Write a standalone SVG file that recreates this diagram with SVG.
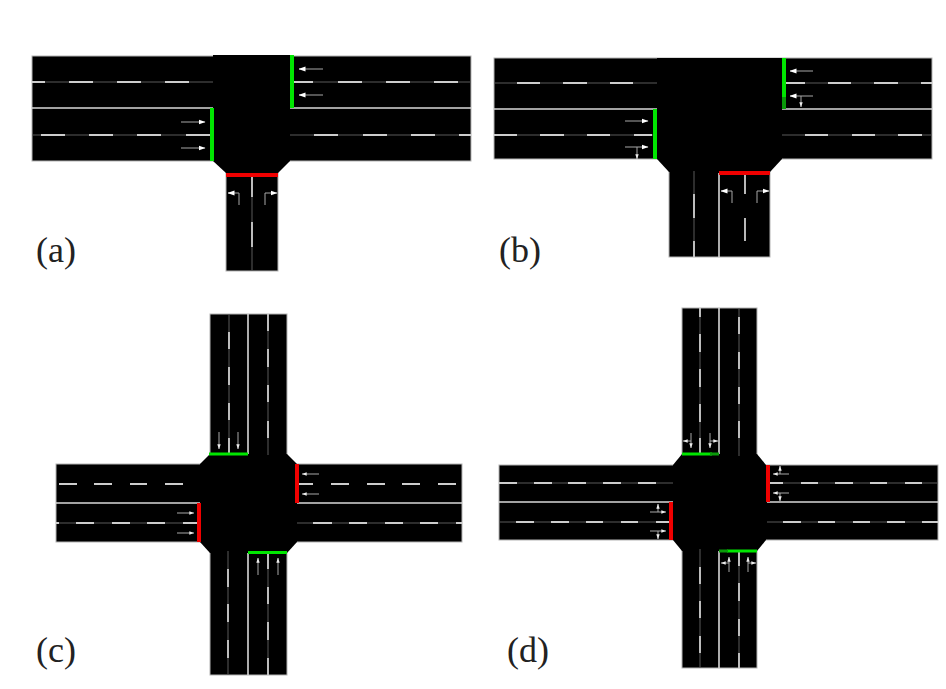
<svg xmlns="http://www.w3.org/2000/svg" width="946" height="689" viewBox="0 0 946 689">
<style>
.road{fill:#000;stroke:#b4b4b4;stroke-width:1}
.box{fill:#000}
.thin{fill:none;stroke:#5a5a5a;stroke-width:1}
.dash{fill:none;stroke:#cdcdcd;stroke-width:1.8}
.solid{fill:none;stroke:#d8d8d8;stroke-width:1.6}
.arr{fill:none;stroke:#a8a8a8;stroke-width:1;marker-end:url(#h)}
.arr2{fill:none;stroke:#a8a8a8;stroke-width:1;marker-end:url(#s)}
.g{fill:none;stroke:#00e600;stroke-width:4}
.g2{fill:none;stroke:#0a9a0a;stroke-width:4}
.r{fill:none;stroke:#f00000;stroke-width:4}
.lab{font-family:"Liberation Serif",serif;font-size:36px;fill:#222}
</style>
<defs>
<marker id="h" viewBox="0 0 7 6" refX="6.5" refY="3" markerWidth="7" markerHeight="6" markerUnits="userSpaceOnUse" orient="auto"><path d="M0 0.5L7 3L0 5.500z" fill="#fff"/></marker>
<marker id="s" viewBox="0 0 5 4" refX="4.700" refY="2" markerWidth="5" markerHeight="4" markerUnits="userSpaceOnUse" orient="auto"><path d="M0 0.300L5 2L0 3.700z" fill="#eee"/></marker>
</defs>
<rect width="946" height="689" fill="#fff"/>

<g id="panel-a">
<rect class="road" x="32" y="56" width="439" height="105"/>
<rect class="road" x="226" y="170" width="52" height="101"/>
<path class="box" d="M213 55H290V161L278 173H226L213 161z"/>
<path class="thin" d="M32 82H213M290 82H471M32 135H213M290 135H471M252 175V271"/>
<path class="dash" d="M32 82H45M69 82H93M117 82H141M165 82H189M41 135H65M89 135H113M137 135H161M186 135H210M293 82H313M338 82H362M386 82H410M434 82H458M314 135H338M363 135H387M411 135H435M459 135H471M252 175V197M252 222V247"/>
<path class="solid" d="M32 108H213M290 108H471"/>
<path class="g" d="M292 55V108M212 108V161"/>
<path class="r" d="M226 175H278"/>
<path class="arr" d="M323 69H299"/><path class="arr" d="M323 95H299"/>
<path class="arr" d="M181 122H205"/><path class="arr" d="M181 148H205"/>
<path class="arr" d="M239 205V193H228"/><path class="arr" d="M265 205V193H277"/>
<text class="lab" x="36" y="262">(a)</text>
</g>

<g id="panel-b">
<rect class="road" x="494" y="58" width="438" height="101"/>
<rect class="road" x="669" y="165" width="101" height="92"/>
<path class="box" d="M657 58H782V159L770 172H669L657 159z"/>
<path class="thin" d="M494 83H657M782 83H932M494 135H657M782 135H932M694 171V257"/>
<path class="dash" d="M517 83H540M563 83H587M610 83H633M494 135H517M540 135H564M587 135H610M634 135H652M785 83H805M828 83H851M874 83H898M921 83H932M805 135H828M852 135H875M898 135H922M694 194V218M694 241V257M745 173V194M745 218V241"/>
<path class="solid" d="M494 109H657M782 109H932M719 173V257"/>
<path class="g" d="M784 58V98M655 109V159"/>
<path class="g2" d="M784 97V109"/>
<path class="r" d="M719 173H770"/>
<path class="arr" d="M813 71H790"/><path class="arr" d="M813 96H790"/><path class="arr2" d="M801 96V107"/>
<path class="arr" d="M625 121H648"/><path class="arr" d="M625 147H648"/><path class="arr2" d="M637 147V159"/>
<path class="arr" d="M732 203V191H721"/><path class="arr" d="M757 203V191H769"/>
<text class="lab" x="499" y="262">(b)</text>
</g>

<g id="panel-c">
<rect class="road" x="56" y="464" width="406" height="78"/>
<rect class="road" x="210" y="314" width="77" height="361"/>
<path class="box" d="M210 454H287L297 464V542L287 553H210L200 542V464z"/>
<path class="thin" d="M229 314V455M268 314V455M228 551V675M268 552V675M56 523H200M297 523H462"/>
<path class="dash" d="M59 484H77M94 484H112M130 484H147M165 484H183M56 523H59M76 523H94M112 523H130M147 523H165M183 523H199M296 484H313M331 484H349M367 484H385M402 484H420M438 484H456M313 523H332M349 523H367M385 523H403M420 523H438M456 523H462M229 332V349M229 367V385M229 403V420M229 438V455M268 314V331M268 349V367M268 385V402M268 421V438M228 569V587M228 604V622M228 640V658M268 552V569M268 587V604M268 622V640M268 658V675"/>
<path class="solid" d="M56 503H200M297 503H462M248 314V454M248 553V675"/>
<path class="g" d="M209 454H248M248 552.500H287" style="stroke-width:3"/>
<path class="r" d="M199 503V542M297 464V503"/>
<path class="arr2" d="M219 432V449"/><path class="arr2" d="M238 432V449"/>
<path class="arr2" d="M258 575V558"/><path class="arr2" d="M278 575V558"/>
<path class="arr2" d="M319 474H302"/><path class="arr2" d="M319 494H302"/>
<path class="arr2" d="M177 513H194"/><path class="arr2" d="M177 533H194"/>
<text class="lab" x="36" y="662">(c)</text>
</g>

<g id="panel-d">
<rect class="road" x="499" y="465" width="439" height="75"/>
<rect class="road" x="682" y="308" width="75" height="360"/>
<path class="box" d="M682 454H757L766 465V540L757 551H682L673 540V465z"/>
<path class="thin" d="M700 308V455M739 308V456M700 549V668M739 551V668M499 483H673M767 483H938M499 522H673M767 522H938"/>
<path class="dash" d="M499 483H517M534 483H552M568 483H586M603 483H621M638 483H656M516 522H534M551 522H569M586 522H603M621 522H638M656 522H670M767 483H783M801 483H818M835 483H853M870 483H887M905 483H922M783 522H801M818 522H835M853 522H870M887 522H905M922 522H938M700 308V317M700 334V352M700 369V387M700 404V422M700 438V455M739 317V334M739 352V369M739 387V404M739 421V438M700 567V584M700 601V618M700 636V653M739 551V566M739 583V601M739 619V636M739 653V668"/>
<path class="solid" d="M499 502H673M767 502H938M719 308V454M719 551V668"/>
<path class="g" d="M682 454H712M727 551H757" style="stroke-width:3"/>
<path class="g2" d="M710 454H719M719 551H728" style="stroke-width:3"/>
<path class="r" d="M671 502V540M768 465V502"/>
<path class="arr2" d="M691 433V448"/><path class="arr2" d="M691 441H683"/>
<path class="arr2" d="M710 433V448"/><path class="arr2" d="M710 441H718"/>
<path class="arr2" d="M729 572V557"/><path class="arr2" d="M729 563H721"/>
<path class="arr2" d="M748 572V557"/><path class="arr2" d="M748 563H756"/>
<path class="arr2" d="M789 474H773"/><path class="arr2" d="M780 474V466"/>
<path class="arr2" d="M789 493H773"/><path class="arr2" d="M780 493V501"/>
<path class="arr2" d="M650 512H666"/><path class="arr2" d="M658 512V504"/>
<path class="arr2" d="M650 531H666"/><path class="arr2" d="M658 531V539"/>
<text class="lab" x="507" y="662">(d)</text>
</g>
</svg>
